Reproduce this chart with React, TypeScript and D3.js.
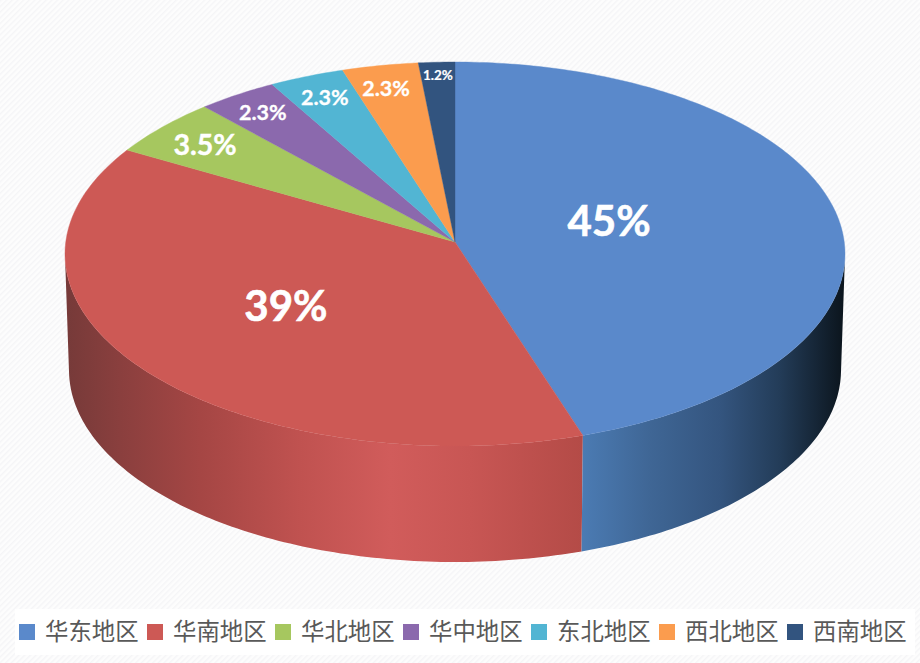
import React from "react";
import * as d3 from "d3";

const regions = ["华东地区", "华南地区", "华北地区", "华中地区", "东北地区", "西北地区", "西南地区"];
// slice sizes as drawn, the printed labels do not add up to 100
const shares = [45, 38.25, 5, 3.5, 3.3, 3.35, 1.6];
const labels = ["45%", "39%", "3.5%", "2.3%", "2.3%", "2.3%", "1.2%"];
const colors = ["#5a89cb", "#cd5955", "#a6c75f", "#8b69ad", "#52b5d3", "#fb9c4e", "#32547f"];

// label placement inside the disc: radius fraction, angle nudge in degrees, font size
const labelRadius = [0.415, 0.534, 0.85, 0.877, 0.872, 0.869, 0.924];
const labelNudge = [-7.2, 2, 0, 0, 0, -0.6, 0];
const labelSize = [42, 42, 28.5, 21.5, 21.5, 21.5, 13.5];

const redWall: [number, string][] = [
    [66, "#763a39"], [120, "#8a3f3e"], [200, "#a54644"], [300, "#c05250"],
    [390, "#d15c5b"], [470, "#c85654"], [582, "#b44b47"],
];
const blueWall: [number, string][] = [
    [582, "#4b7bb3"], [650, "#3f6695"], [720, "#34557f"], [780, "#233c58"], [845, "#0b141c"],
];

const width = 920;
const height = 663;
const top = {cx: 455, cy: 254, rx: 390, ry: 192};
const bottom = {cx: 455, cy: 370, rx: 386, ry: 192};
const tilt = -0.0625; // the apex sits above the middle of the ellipse

// disc position (angle clockwise from the top, radius) to ellipse coordinates
const disc = (angle: number, r = 1): [number, number] => {
    const u = r * Math.sin(angle);
    const v = -r * Math.cos(angle);
    const d = 1 + tilt * v;
    return [(u * Math.sqrt(1 - tilt * tilt)) / d, (v + tilt) / d];
};
const onTop = ([u, v]: [number, number]): [number, number] => [top.cx + top.rx * u, top.cy + top.ry * v];
const onBottom = ([u, v]: [number, number]): [number, number] => [bottom.cx + bottom.rx * u, bottom.cy + bottom.ry * v];

const arcs = d3.pie<number>().sort(null)(shares);
const line = d3.line();

const sweep = (a0: number, a1: number) => {
    const n = Math.max(2, Math.ceil(Math.abs(a1 - a0) * 60));
    return d3.range(n + 1).map((i) => a0 + ((a1 - a0) * i) / n);
};

const slicePath = (a: d3.PieArcDatum<number>) =>
    line([onTop(disc(0, 0)), ...sweep(a.startAngle, a.endAngle).map((t) => onTop(disc(t)))]) + "Z";

// the side only shows under the widest part of the ellipse
const wallPath = (a0: number, a1: number) => {
    const pts = sweep(a0, a1).map((t) => disc(t)).filter((p) => p[1] >= 0);
    return line([...pts.map(onTop), ...pts.slice().reverse().map(onBottom)]) + "Z";
};

const legendX = d3.scaleBand<string>().domain(regions).range([19, 19 + 128 * regions.length]);

const Stops = ({id, stops}: {id: string; stops: [number, string][]}) => (
    <linearGradient id={id} gradientUnits="userSpaceOnUse" x1={stops[0][0]} x2={stops[stops.length - 1][0]} y1={0} y2={0}>
        {stops.map(([x, c]) => (
            <stop
                key={x}
                offset={(x - stops[0][0]) / (stops[stops.length - 1][0] - stops[0][0])}
                stopColor={c}
            />
        ))}
    </linearGradient>
);

export default function App() {
    const blue = arcs[0];
    const red = arcs[1];
    return (
        <svg width={width} height={height} style={{position: "absolute", left: 0, top: 0}}>
            <defs>
                <pattern id="hatch" width={4} height={4} patternUnits="userSpaceOnUse" patternTransform="rotate(45)">
                    <rect width={4} height={4} fill="#fdfdfd" />
                    <rect width={1.4} height={4} fill="#f5f5f7" />
                </pattern>
                <Stops id="blueWall" stops={blueWall} />
                <Stops id="redWall" stops={redWall} />
            </defs>
            <rect width={width} height={height} fill="url(#hatch)" />

            <path d={wallPath(red.startAngle, red.endAngle)} fill="url(#redWall)" />
            <path d={wallPath(blue.startAngle, blue.endAngle)} fill="url(#blueWall)" />

            {arcs.map((a, i) => (
                <path key={regions[i]} d={slicePath(a)} fill={colors[i]} stroke={colors[i]} strokeWidth={0.4} />
            ))}

            {arcs.map((a, i) => {
                const mid = (a.startAngle + a.endAngle) / 2 + (labelNudge[i] * Math.PI) / 180;
                const [x, y] = onTop(disc(mid, labelRadius[i]));
                return (
                    <text
                        key={i}
                        x={x}
                        y={y}
                        textAnchor="middle"
                        dominantBaseline="central"
                        fill="#fff"
                        stroke="#fff"
                        strokeWidth={labelSize[i] / 70}
                        fontFamily="Lato"
                        fontWeight={700}
                        fontSize={labelSize[i]}
                    >
                        {labels[i]}
                    </text>
                );
            })}

            <rect x={15} y={609} width={900} height={46} fill="#fff" />
            {regions.map((r, i) => (
                <g key={r} transform={`translate(${legendX(r)},0)`}>
                    <rect y={624} width={16} height={16} fill={colors[i]} />
                    <text
                        x={26}
                        y={640}
                        fill="#595959"
                        fontFamily="'Noto Sans CJK SC'"
                        fontSize={23.4}
                    >
                        {r}
                    </text>
                </g>
            ))}
        </svg>
    );
}
